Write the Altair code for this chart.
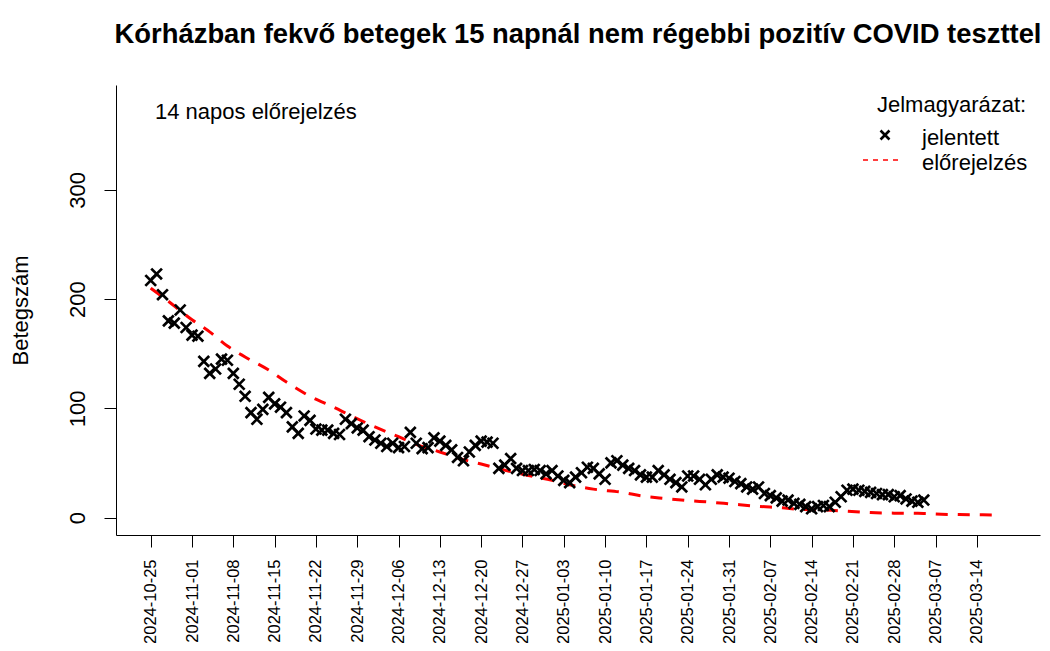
import altair as alt
import pandas as pd

# ---------------- texts ----------------
title_text = "Kórházban fekvő betegek 15 napnál nem régebbi pozitív COVID teszttel"
y_title = "Betegszám"
note_text = "14 napos előrejelzés"
legend_title = "Jelmagyarázat:"
legend_reported = "jelentett"
legend_forecast = "előrejelzés"

# ---------------- data ----------------
report_start = "2024-10-25"
reported = [
    217, 223, 204, 180, 178, 190, 174, 167, 166, 143,
    132, 136, 145, 144, 132, 122, 111, 96, 90, 99,
    110, 104, 101, 96, 83, 77, 93, 89, 81, 80,
    80, 77, 76, 90, 86, 82, 80, 74, 71, 68,
    65, 68, 64, 65, 78, 68, 63, 64, 73, 70,
    66, 62, 55, 52, 60, 66, 70, 69, 68, 45,
    48, 54, 45, 43, 43, 44, 43, 40, 43, 38,
    34, 32, 37, 41, 46, 45, 40, 35, 50, 52,
    48, 45, 43, 39, 37, 37, 43, 39, 35, 32,
    28, 38, 38, 35, 30, 35, 39, 37, 36, 33,
    31, 28, 26, 28, 22, 20, 18, 15, 16, 13,
    12, 10, 8, 10, 11, 10, 14, 19, 25, 26,
    25, 24, 23, 22, 21, 21, 19, 20, 17, 15,
    14, 16,
]
forecast_days = [0, 3, 7, 10, 13, 16, 20, 23, 27, 31, 34, 38, 42, 45, 49, 53, 56,
                 61, 64, 68, 71, 75, 80, 83, 87, 91, 95, 98, 103, 107, 110, 114,
                 118, 122, 126, 130, 132, 133, 137, 141, 144]
forecast_values = [210, 198, 181, 170, 157, 147, 135, 124, 111, 101, 93, 83, 74, 67,
                   60, 53, 49, 42, 38.5, 34, 30, 26, 23, 20, 17.5, 15.5, 14, 12.6,
                   10.2, 8.9, 7.5, 7, 5.8, 4.5, 4, 3.8, 3.6, 3.2, 2.7, 2.5, 2.3]
tick_dates = ["2024-10-25", "2024-11-01", "2024-11-08", "2024-11-15", "2024-11-22",
              "2024-11-29", "2024-12-06", "2024-12-13", "2024-12-20", "2024-12-27",
              "2025-01-03", "2025-01-10", "2025-01-17", "2025-01-24", "2025-01-31",
              "2025-02-07", "2025-02-14", "2025-02-21", "2025-02-28", "2025-03-07",
              "2025-03-14"]
y_ticks = [0, 100, 200, 300]

# ---------------- build tables ----------------
FONT = "Liberation Sans"
start = pd.Timestamp(report_start)
DAY_MS = 86400000
start_ms = int(pd.Timestamp(report_start, tz="UTC").timestamp() * 1000)

rep_df = pd.DataFrame({
    "date": [(start + pd.Timedelta(days=i)).strftime("%Y-%m-%d") for i in range(len(reported))],
    "value": reported,
})
fc_df = pd.DataFrame({
    "date": [(start + pd.Timedelta(days=d)).strftime("%Y-%m-%d") for d in forecast_days],
    "value": forecast_values,
})
tick_ms = [int(pd.Timestamp(t, tz="UTC").timestamp() * 1000) for t in tick_dates]

W, H = 924, 450
xscale = alt.Scale(type="utc", domain=[start_ms - 5.88 * DAY_MS, start_ms + 150.7 * DAY_MS], nice=False)
yscale = alt.Scale(domain=[-16, 396], nice=False, zero=False)

xaxis = alt.Axis(values=tick_ms, labelExpr="utcFormat(datum.value, '%Y-%m-%d')",
                 labelAngle=270,
                 labelAlign="right", labelBaseline="middle", labelPadding=12,
                 tickSize=12, tickColor="black", tickWidth=1, domainColor="black",
                 domainWidth=1, grid=False, labelOverlap=False, labelFlush=False,
                 labelFont=FONT, labelFontSize=16.5, labelColor="black", title=None)
yaxis = alt.Axis(values=y_ticks, grid=False, tickSize=12, tickColor="black", tickWidth=1,
                 domainColor="black", domainWidth=1, labelAngle=270, labelAlign="center",
                 labelBaseline="alphabetic", labelPadding=20, labelFontSize=22, labelFont=FONT,
                 labelColor="black", labelFlush=False, labelOverlap=False,
                 titleFontSize=22, titleFont=FONT,
                 titleFontWeight="normal", titleColor="black", titleAngle=270,
                 titleAlign="center", titleBaseline="bottom", titleX=-84, titleY=225)

cross = "M-1,-1L1,1M-1,1L1,-1"

points = alt.Chart(rep_df).mark_point(
    shape=cross, filled=False, color="black", strokeWidth=2.7, size=115, opacity=1
).encode(
    x=alt.X("date:T", scale=xscale, axis=xaxis),
    y=alt.Y("value:Q", scale=yscale, axis=yaxis, title=y_title),
)

line = alt.Chart(fc_df).mark_line(
    color="#FF0000", strokeWidth=3, strokeDash=[12, 10], interpolate="monotone"
).encode(
    x=alt.X("date:T", scale=xscale),
    y=alt.Y("value:Q", scale=yscale),
)

def label(txt, x, y, size=22):
    return alt.Chart(pd.DataFrame({"t": [txt]})).mark_text(
        align="left", baseline="alphabetic", font=FONT, fontSize=size, color="black"
    ).encode(x=alt.value(x), y=alt.value(y), text="t:N")

note = label(note_text, 39, 34)
leg_title = label(legend_title, 761, 27)
leg_rep = label(legend_reported, 806, 60)
leg_fc = label(legend_forecast, 806, 85)

leg_cross = alt.Chart(pd.DataFrame({"t": [legend_reported]})).mark_point(
    shape=cross, filled=False, color="black", strokeWidth=2.6, size=80, opacity=1
).encode(x=alt.value(769), y=alt.value(50))

leg_line = alt.Chart(pd.DataFrame({"t": [legend_forecast]})).mark_rule(
    color="#FF0000", strokeWidth=1.5, strokeDash=[5, 5]
).encode(x=alt.value(747), x2=alt.value(786), y=alt.value(75))

chart = alt.layer(
    line, points, note, leg_title, leg_rep, leg_fc, leg_cross, leg_line
).properties(
    width=W, height=H,
    autosize=alt.AutoSizeParams(type="none"),
    padding={"left": 108, "top": 77, "right": 2, "bottom": 108},
    title=alt.TitleParams(title_text, font=FONT, fontSize=27.4, fontWeight="bold",
                          color="black", anchor="middle", frame="group",
                          baseline="alphabetic", offset=15),
).configure_view(stroke=None)

chart.save("out.html", embed_options={"renderer": "svg", "actions": False})
